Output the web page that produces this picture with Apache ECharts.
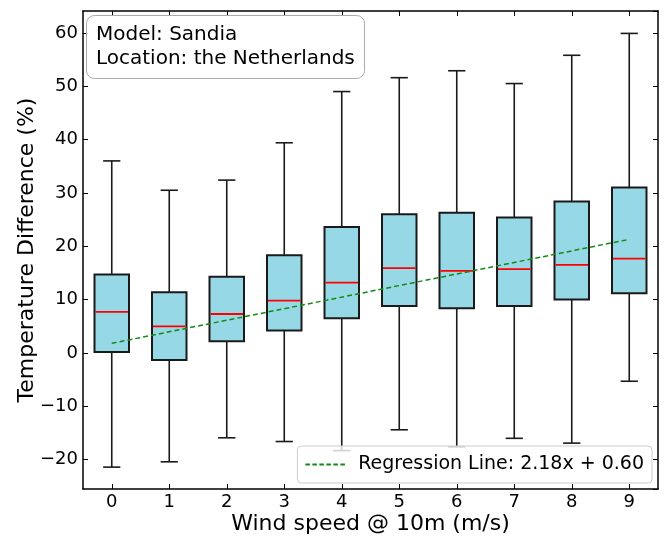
<!DOCTYPE html>
<html>
<head>
<meta charset="utf-8">
<script src="https://cdn.jsdelivr.net/npm/echarts@6/dist/echarts.min.js"></script>
<style>html,body{margin:0;padding:0;background:#fff}#c{width:666px;height:537px}</style>
</head>
<body>
<div id="c"></div>
<script>
const categories = ['0','1','2','3','4','5','6','7','8','9'];
const whiskerLow  = [-21.4, -20.4, -15.9, -16.6, -18.3, -14.4, -17.6, -16.0, -16.9, -5.3];
const q1Values    = [0.2, -1.3, 2.2, 4.2, 6.5, 8.8, 8.4, 8.8, 10.0, 11.2];
const medians     = [7.7, 5.0, 7.3, 9.8, 13.2, 15.9, 15.4, 15.7, 16.5, 17.7];
const q3Values    = [14.7, 11.4, 14.3, 18.3, 23.6, 26.0, 26.3, 25.4, 28.4, 31.0];
const whiskerHigh = [36.0, 30.5, 32.4, 39.4, 49.0, 51.6, 52.9, 50.5, 55.8, 59.9];
const regressionX = ['0', '9'];
const regressionY = [1.8, 21.3];
const regressionName = 'Regression Line: 2.18x + 0.60';
const infoText = 'Model: Sandia\nLocation: the Netherlands';

const boxRows = categories.map((c, i) => [i, whiskerLow[i], q1Values[i], medians[i], q3Values[i], whiskerHigh[i]]);
const regData = regressionX.map((x, i) => [x, regressionY[i]]);

const FONT = 'DejaVu Sans';
const fmt = v => String(v).replace('-', '\u2212');
const dashIcon = 'path://M0,0h4.5v2h-4.5z M7,0h4.5v2h-4.5z M14,0h4.5v2h-4.5z M21,0h4.5v2h-4.5z M28,0h4.5v2h-4.5z M35,0h4.5v2h-4.5z';

const chart = echarts.init(document.getElementById('c'), null, {renderer: 'canvas'});
const yCommon = { type: 'value', min: -25.5, max: 64.1, splitNumber: 9, splitLine: {show: false} };
const axLine = {show: true, onZero: false, lineStyle: {color: '#000', width: 1.5}};
const axTick = {show: true, inside: true, length: 5, lineStyle: {color: '#000', width: 1}};
chart.setOption({
  animation: false,
  backgroundColor: '#fff',
  textStyle: {fontFamily: FONT},
  title: {
    text: infoText,
    left: 86, top: 15,
    padding: [8, 10, 8, 10],
    borderColor: '#aaaaaa', borderWidth: 1, borderRadius: 8,
    backgroundColor: 'rgba(255,255,255,0.8)',
    textStyle: {fontFamily: FONT, fontSize: 20, fontWeight: 'normal', color: '#000', lineHeight: 24}
  },
  legend: {
    data: [{name: regressionName, icon: dashIcon}],
    right: 14, bottom: 54,
    padding: [9, 8, 9, 8],
    itemWidth: 40, itemHeight: 2, itemGap: 10,
    backgroundColor: 'rgba(255,255,255,0.8)',
    borderColor: '#cccccc', borderWidth: 1, borderRadius: 4,
    textStyle: {fontFamily: FONT, fontSize: 19, color: '#000', padding: [0, 0, 0, 8]}
  },
  grid: {left: 83, right: 8, top: 11, bottom: 48, containLabel: false, outerBoundsMode: 'none'},
  xAxis: [
    {
      type: 'category', data: categories, boundaryGap: true, position: 'bottom',
      name: 'Wind speed @ 10m (m/s)', nameLocation: 'middle', nameGap: 24, nameMoveOverlap: false,
      nameTextStyle: {fontFamily: FONT, fontSize: 22, color: '#000'},
      axisLine: axLine,
      axisTick: Object.assign({alignWithLabel: true}, axTick),
      axisLabel: {fontFamily: FONT, fontSize: 18, color: '#000', margin: 4}
    },
    {
      type: 'category', data: categories, boundaryGap: true, position: 'top',
      axisLine: axLine,
      axisTick: Object.assign({alignWithLabel: true}, axTick),
      axisLabel: {show: false}
    }
  ],
  yAxis: [
    Object.assign({}, yCommon, {
      position: 'left',
      name: 'Temperature Difference (%)', nameLocation: 'middle', nameGap: 45, nameMoveOverlap: false,
      nameTextStyle: {fontFamily: FONT, fontSize: 22, color: '#000'},
      axisLine: axLine,
      axisTick: axTick,
      axisLabel: {fontFamily: FONT, fontSize: 18, color: '#000', margin: 5, showMinLabel: false, showMaxLabel: false, formatter: fmt}
    }),
    Object.assign({}, yCommon, {
      position: 'right',
      axisLine: axLine,
      axisTick: axTick,
      axisLabel: {show: false}
    })
  ],
  series: [
    {
      type: 'custom',
      name: 'box',
      xAxisIndex: 0, yAxisIndex: 0,
      data: boxRows,
      encode: {x: 0, y: [1, 2, 3, 4, 5]},
      z: 2,
      renderItem: function (params, api) {
        const idx = api.value(0);
        const pLow = api.coord([idx, api.value(1)]);
        const pQ1 = api.coord([idx, api.value(2)]);
        const pMed = api.coord([idx, api.value(3)]);
        const pQ3 = api.coord([idx, api.value(4)]);
        const pHigh = api.coord([idx, api.value(5)]);
        const band = api.size([1, 0])[0];
        const bw = band * 0.6, cw = band * 0.3;
        const cx = pQ1[0];
        const black = {stroke: '#1a1a1a', lineWidth: 1.6};
        return {
          type: 'group',
          children: [
            {type: 'line', shape: {x1: cx, y1: pLow[1], x2: cx, y2: pQ1[1]}, style: black},
            {type: 'line', shape: {x1: cx, y1: pQ3[1], x2: cx, y2: pHigh[1]}, style: black},
            {type: 'line', shape: {x1: cx - cw / 2, y1: pLow[1], x2: cx + cw / 2, y2: pLow[1]}, style: black},
            {type: 'line', shape: {x1: cx - cw / 2, y1: pHigh[1], x2: cx + cw / 2, y2: pHigh[1]}, style: black},
            {type: 'rect', shape: {x: cx - bw / 2, y: pQ3[1], width: bw, height: pQ1[1] - pQ3[1]},
              style: {fill: '#97d8e6', stroke: '#1a1a1a', lineWidth: 2}},
            {type: 'line', shape: {x1: cx - bw / 2 + 1, y1: pMed[1], x2: cx + bw / 2 - 1, y2: pMed[1]},
              style: {stroke: '#ff0000', lineWidth: 1.8}}
          ]
        };
      }
    },
    {
      type: 'line',
      name: regressionName,
      xAxisIndex: 0, yAxisIndex: 0,
      data: regData,
      symbol: 'none',
      z: 3,
      lineStyle: {color: '#138a13', width: 1.5, type: [5, 3]},
      itemStyle: {color: '#138a13'}
    }
  ]
});
</script>
</body>
</html>
